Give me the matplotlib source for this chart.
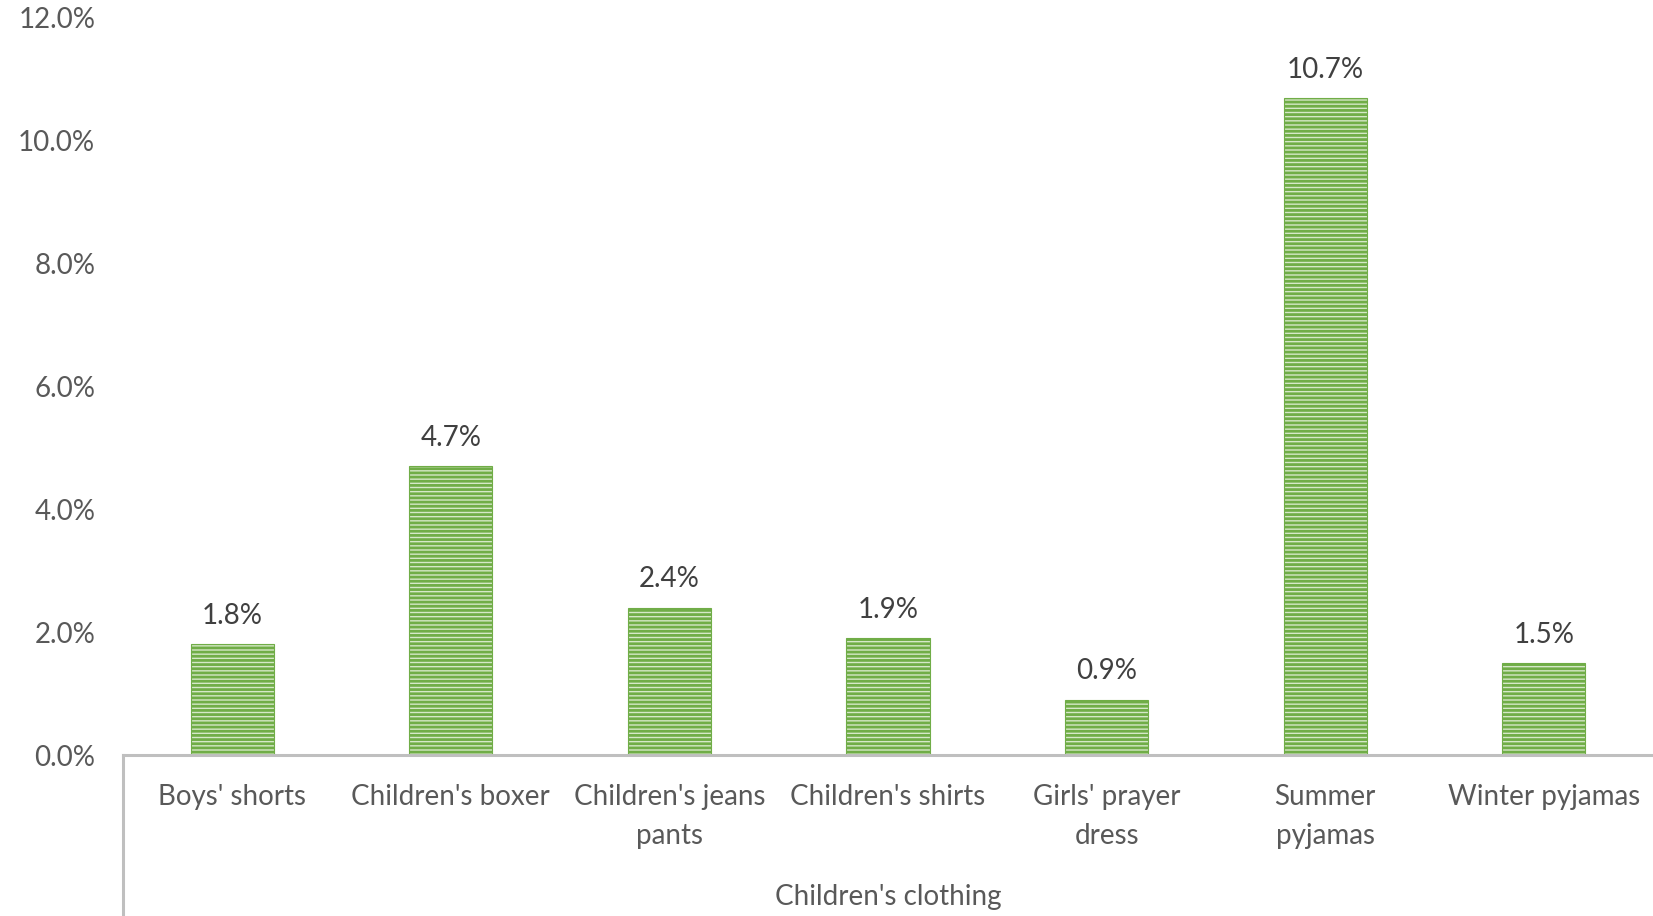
import matplotlib.pyplot as plt
from matplotlib.lines import Line2D
from matplotlib.ticker import PercentFormatter

categories = ["Boys' shorts", "Children's boxer", "Children's jeans\npants", "Children's shirts",
              "Girls' prayer\ndress", "Summer\npyjamas", "Winter pyjamas"]
values = [1.8, 4.7, 2.4, 1.9, 0.9, 10.7, 1.5]
group_label = "Children's clothing"

plt.rcParams['font.family'] = ['Lato', 'DejaVu Sans']
plt.rcParams['hatch.linewidth'] = 2.0

fig = plt.figure(figsize=(16.53, 9.16), dpi=100)
# axes placed in pixel terms: left 123, right 1653, top 18, zero line 755
ax = fig.add_axes([123 / 1653, 1 - 755 / 916, (1653 - 123) / 1653, (755 - 18) / 916])

x = range(len(categories))
bars = ax.bar(x, values, width=0.38, color='#d5e8c8', edgecolor='#70ad47',
              hatch='----', linewidth=0.8, zorder=2)

for b, v in zip(bars, values):
    ax.annotate(f"{v:.1f}%", (b.get_x() + b.get_width() / 2, v), xytext=(0, 11),
                textcoords='offset points', ha='center', va='bottom',
                fontsize=20, color='#404040')

ax.set_xlim(-0.5, len(categories) - 0.5)
ax.set_ylim(0, 12)
ax.set_yticks([0, 2, 4, 6, 8, 10, 12])
ax.yaxis.set_major_formatter(PercentFormatter(decimals=1))
ax.set_xticks(list(x))
ax.set_xticklabels(categories, fontsize=20, color='#595959', linespacing=1.6, va='top')
ax.tick_params(axis='y', length=0, pad=20, labelsize=20, labelcolor='#595959')
ax.tick_params(axis='x', length=0, pad=21)

for s in ['top', 'right', 'left']:
    ax.spines[s].set_visible(False)
ax.spines['bottom'].set_color('#bfbfbf')
ax.spines['bottom'].set_linewidth(2.2)

# left line of the grouped category axis
ax.add_line(Line2D([0, 0], [0, -0.3], transform=ax.transAxes, color='#bfbfbf',
                   linewidth=2.2, clip_on=False))

ax.text(0.5, (755 - 897) / (755 - 18), group_label, transform=ax.transAxes,
        ha='center', va='center', fontsize=20, color='#595959')

fig.savefig('out.png', dpi=100)
